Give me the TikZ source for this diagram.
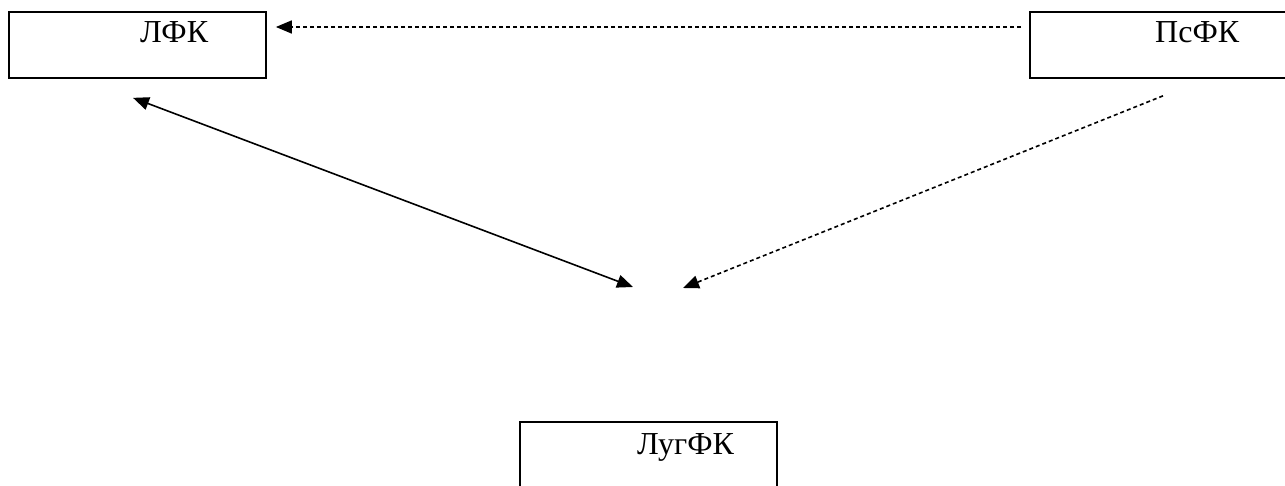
\documentclass[tikz,border=0pt]{standalone}
\usepackage{fontspec}
\setmainfont{Liberation Serif}
\usepackage{xcolor}
\usetikzlibrary{arrows.meta}
\usetikzlibrary{positioning}

\begin{document}
\begin{tikzpicture}[x=1pt, y=1pt,
			box/.style={
					rectangle,
					draw,
					line width=1.7pt,
					minimum width=257pt,
					minimum height=66pt,
					inner sep=0pt
				},
			boxtitle/.style={
					anchor=base west,
					inner sep=0pt,
					font=\fontsize{32}{32}\selectfont
				},
			line/.style={draw, line width=1.6pt, -{Triangle[length=16pt,width=13pt]}},
			dline/.style={line, dash pattern=on 4pt off 3pt}
		]
		\useasboundingbox (0,0) rectangle (1285,485);
		% Place nodes
		\node [box, label={[boxtitle, xshift=2.5pt, yshift=-31pt]north:ЛФК}] (lfk) at (137.5,440) {};
		\node [box, label={[boxtitle, xshift=-3.5pt, yshift=-31pt]north:ПсФК}] (psfk) at (1158.5,440) {};
		\node [box, label={[boxtitle, xshift=-11.5pt, yshift=-33pt]north:ЛугФК}] (lugfk) at (648.5,30) {};
		\coordinate (tipl) at (633,198);
		\coordinate (tipr) at (683,197);
		% Draw edges
		\path [dline] ([shift={(-8pt,18pt)}]psfk.west) -- ([shift={(9pt,18pt)}]lfk.east);
		\path [line, {Triangle[length=16pt,width=13pt]}-{Triangle[length=16pt,width=13pt]}] ([shift={(-4.5pt,-19pt)}]lfk.south) -- (tipl);
		\path [dline] ([shift={(4.5pt,-17pt)}]psfk.south) -- (tipr);
	\end{tikzpicture}
\end{document}
